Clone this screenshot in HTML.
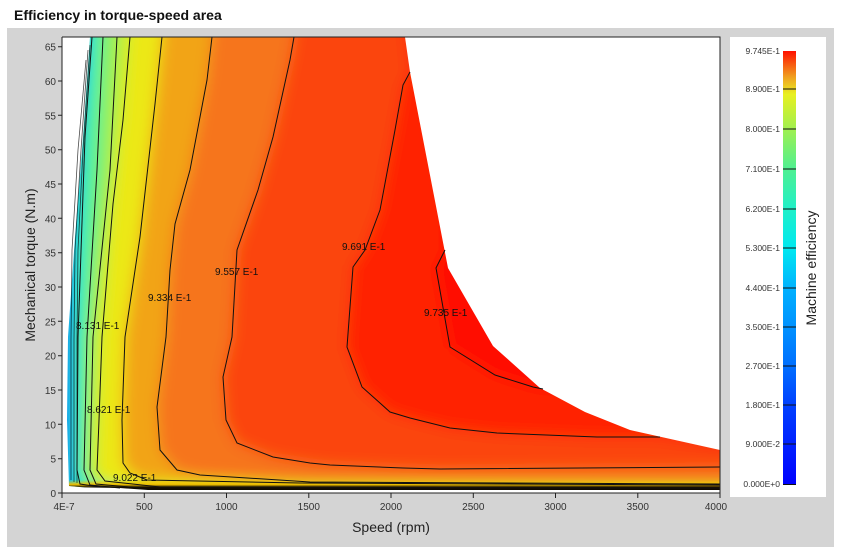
<!DOCTYPE html>
<html><head><meta charset="utf-8"><style>
html,body{margin:0;padding:0;background:#fff;width:846px;height:557px;overflow:hidden}
svg{display:block}
text{font-family:"Liberation Sans",sans-serif}
</style></head><body>
<svg width="846" height="557" viewBox="0 0 846 557">
<defs>
<linearGradient id="cb" x1="0" y1="1" x2="0" y2="0">
<stop offset="0" stop-color="#0000ff"/>
<stop offset="0.185" stop-color="#0040ff"/>
<stop offset="0.277" stop-color="#0070ff"/>
<stop offset="0.36" stop-color="#0090ff"/>
<stop offset="0.45" stop-color="#00b0ff"/>
<stop offset="0.544" stop-color="#00e8f0"/>
<stop offset="0.636" stop-color="#20f0c8"/>
<stop offset="0.73" stop-color="#50f090"/>
<stop offset="0.82" stop-color="#a0f050"/>
<stop offset="0.9" stop-color="#e8f020"/>
<stop offset="0.94" stop-color="#f0a020"/>
<stop offset="1" stop-color="#ff1000"/>
</linearGradient>
<linearGradient id="bb" x1="0" y1="0" x2="0" y2="1">
<stop offset="0" stop-color="#f0c000" stop-opacity="0"/>
<stop offset="0.35" stop-color="#f0c000"/>
<stop offset="0.55" stop-color="#181000"/>
<stop offset="1" stop-color="#000"/>
</linearGradient>
<clipPath id="field">
<path d="M90,37 L405,37 L410,72 L448,268 L493,346 L540,388 L585,412 L630,430 L720,450 L720,490 L120,490 L90,488 L69,486 L67,420 L68,337 L75,237 L83,137 Z"/>
</clipPath>
<filter id="bl" x="-10%" y="-10%" width="120%" height="120%"><feGaussianBlur stdDeviation="7"/></filter>
</defs>
<text x="14" y="20" font-size="14" font-weight="bold" fill="#111">Efficiency in torque-speed area</text>
<rect x="7" y="28" width="827" height="519" fill="#d4d4d4"/>
<rect x="62" y="37" width="658" height="456" fill="#fff"/>
<g clip-path="url(#field)">
<g filter="url(#bl)">
<rect x="40" y="20" width="700" height="490" fill="#fb4410"/>
<path d="M410,72 L403,85 L395,130 L380,210 L365,250 L353,267 L347,347 L362,387 L390,412 L410,418 L450,428 L497,433 L597,437 L660,437 L740,450 L740,20 L405,20 Z" fill="#ff2004"/>
<path d="M445,250 L436,268 L450,347 L495,375 L533,387 L543,389 L740,389 L740,20 L445,20 Z" fill="#ff1000"/>
<path d="M40,20 L294,20 L294,37 L290,60 L273,137 L258,190 L237,250 L232,337 L223,377 L226,420 L237,443 L273,457 L310,463 L330,465 L403,468 L440,469 L740,467 L740,510 L40,510Z" fill="#f6741a"/>
<path d="M40,20 L212,20 L212,37 L207,80 L190,170 L175,224 L170,270 L166,337 L157,407 L160,450 L177,470 L200,475 L310,482 L740,484 L740,510 L40,510Z" fill="#f2a418"/>
<path d="M40,20 L162,20 L162,37 L155,104 L140,237 L125,337 L122,420 L123,463 L130,473 L147,480 L300,483 L740,485 L740,510 L40,510Z" fill="#ece818"/>
<path d="M40,20 L130,20 L130,37 L123,120 L113,204 L102,337 L99,420 L97,470 L105,481 L160,487 L740,488 L740,510 L40,510Z" fill="#c4f032"/>
<path d="M40,20 L117,20 L117,37 L110,170 L93,337 L90,470 L96,484 L140,488 L40,510Z" fill="#8cf064"/>
<path d="M40,20 L103,20 L103,37 L97,170 L87,337 L84,470 L90,485 L120,488 L40,510Z" fill="#50f0a0"/>
<path d="M40,20 L92,20 L92,37 L85,137 L78,337 L77,470 L80,484 L100,487 L40,510Z" fill="#20e4d8"/>
<path d="M40,20 L86,20 L86,60 L78,150 L72,250 L71,340 L71,486 L40,510Z" fill="#00b4f4"/>
<path d="M40,20 L80,20 L80,120 L70,250 L68,400 L68,486 L40,510Z" fill="#0070f0"/>
</g>
<rect x="62" y="480" width="658" height="13" fill="url(#bb)"/>
</g>
<path d="M62,487 L120,488 L190,493 L62,493Z" fill="#fff"/>
<g fill="none" stroke="#000" stroke-width="0.8" opacity="0.7">
<path d="M86,60 L78,150 L72,250 L71,340 L71,480"/>
<path d="M88,50 L81,150 L75,250 L74,340 L74,482"/>
<path d="M90,45 L83,150 L78,250 L77,340 L77,483"/>
</g>
<g fill="none" stroke="#111" stroke-width="1">
<path d="M92,37 L85,137 L78,337 L77,470 L80,484 L100,487"/>
<path d="M103,37 L97,170 L87,337 L84,470 L90,485 L120,488"/>
<path d="M117,37 L110,170 L93,337 L90,470 L96,484 L140,488"/>
<path d="M130,37 L123,120 L113,204 L102,337 L99,420 L97,470 L105,481 L160,487 L720,488"/>
<path d="M162,37 L155,104 L140,237 L125,337 L122,420 L123,463 L130,473 L147,480 L300,483 L720,485"/>
<path d="M212,37 L207,80 L190,170 L175,224 L170,270 L166,337 L157,407 L160,450 L177,470 L200,475 L310,482 L720,484"/>
<path d="M294,37 L290,60 L273,137 L258,190 L237,250 L232,337 L223,377 L226,420 L237,443 L273,457 L310,463 L330,465 L403,468 L440,469 L720,467"/>
<path d="M410,72 L403,85 L395,130 L380,210 L365,250 L353,267 L347,347 L362,387 L390,412 L410,418 L450,428 L497,433 L597,437 L660,437"/>
<path d="M445,250 L436,268 L450,347 L495,375 L533,387 L543,389"/>
</g>
<g font-size="10" fill="#111">
<text x="342" y="250">9.691 E-1</text>
<text x="424" y="316">9.735 E-1</text>
<text x="215" y="275">9.557 E-1</text>
<text x="148" y="301">9.334 E-1</text>
<text x="76" y="329">8.131 E-1</text>
<text x="87" y="413">8.621 E-1</text>
<text x="113" y="481">9.022 E-1</text>
</g>
<path d="M62,37 L720,37 L720,493 M62,37 L62,493 L720,493" fill="none" stroke="#222" stroke-width="1"/>
<g stroke="#222" stroke-width="1">
<path d="M58,493H62M58,458.7H62M58,424.3H62M58,390H62M58,355.7H62M58,321.3H62M58,287H62M58,252.7H62M58,218.3H62M58,184H62M58,149.7H62M58,115.3H62M58,81H62M58,46.7H62"/>
<path d="M62,493V498M144.3,493V498M226.5,493V498M308.8,493V498M391,493V498M473.3,493V498M555.5,493V498M637.8,493V498M720,493V498"/>
</g>
<g font-size="10" fill="#333" text-anchor="end">
<text x="56" y="497">0</text><text x="56" y="462.7">5</text><text x="56" y="428.3">10</text><text x="56" y="394">15</text><text x="56" y="359.7">20</text><text x="56" y="325.3">25</text><text x="56" y="291">30</text><text x="56" y="256.7">35</text><text x="56" y="222.3">40</text><text x="56" y="188">45</text><text x="56" y="153.7">50</text><text x="56" y="119.3">55</text><text x="56" y="85">60</text><text x="56" y="50.7">65</text>
</g>
<g font-size="10" fill="#333" text-anchor="middle">
<text x="64" y="510">4E-7</text><text x="144.3" y="510">500</text><text x="226.5" y="510">1000</text><text x="308.8" y="510">1500</text><text x="391" y="510">2000</text><text x="473.3" y="510">2500</text><text x="555.5" y="510">3000</text><text x="637.8" y="510">3500</text><text x="716" y="510">4000</text>
</g>
<text x="391" y="532" font-size="14" fill="#222" text-anchor="middle">Speed (rpm)</text>
<text transform="translate(35,265) rotate(-90)" font-size="14" fill="#222" text-anchor="middle">Mechanical torque (N.m)</text>
<rect x="730" y="37" width="96" height="460" fill="#fff"/>
<rect x="783" y="51" width="13" height="434" fill="url(#cb)"/>
<g stroke="#111" stroke-width="1">
<path d="M783,89H796M783,129H796M783,169H796M783,209H796M783,248H796M783,288H796M783,327H796M783,366H796M783,405H796M783,444H796M783,484.5H796"/>
</g>
<g font-size="8.5" fill="#333" text-anchor="end">
<text x="780" y="54">9.745E-1</text><text x="780" y="92">8.900E-1</text><text x="780" y="132">8.000E-1</text><text x="780" y="172">7.100E-1</text><text x="780" y="212">6.200E-1</text><text x="780" y="251">5.300E-1</text><text x="780" y="291">4.400E-1</text><text x="780" y="330">3.500E-1</text><text x="780" y="369">2.700E-1</text><text x="780" y="408">1.800E-1</text><text x="780" y="447">9.000E-2</text><text x="780" y="487">0.000E+0</text>
</g>
<text transform="translate(816,268) rotate(-90)" font-size="14" fill="#222" text-anchor="middle">Machine efficiency</text>
</svg>
</body></html>
